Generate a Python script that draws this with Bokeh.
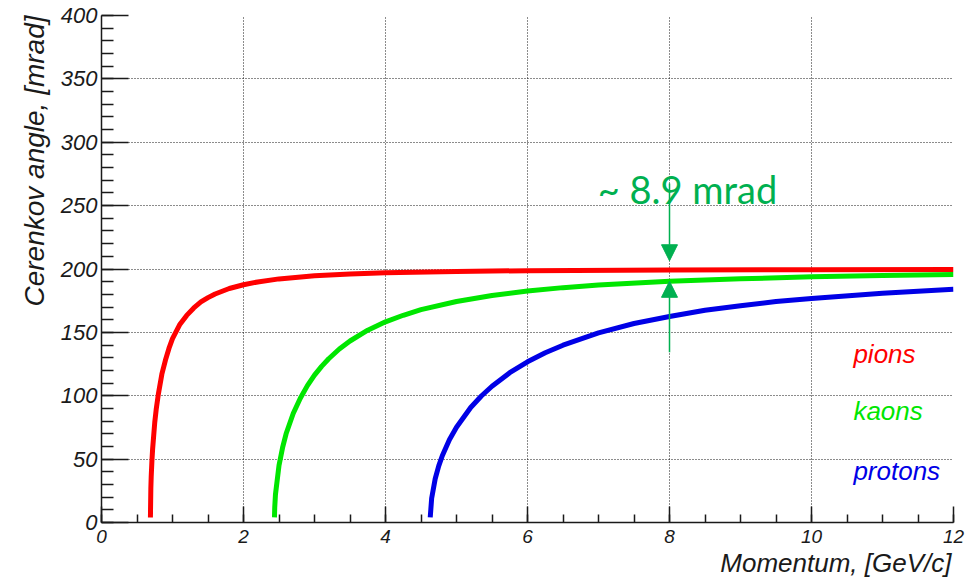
import math
from bokeh.plotting import figure
from bokeh.models import Range1d, FixedTicker, Label, Arrow, NormalHead, Title
from bokeh.embed import file_html
from bokeh.resources import INLINE

# ---- data ----
pion_p = [0.689, 0.695, 0.70, 0.71, 0.72, 0.75, 0.77, 0.80, 0.85, 0.90, 0.95, 1.0,
          1.1, 1.2, 1.3, 1.4, 1.5, 1.6, 1.8, 2.0, 2.2, 2.5, 3.0, 3.5, 4.0, 5.0,
          6.0, 8.0, 10.0, 12.0]
pion_theta = [4, 27, 36, 48.5, 58, 79, 89, 101, 117, 128, 137.3, 145,
              156, 163.4, 169.3, 174, 177.4, 180.3, 184.6, 187.6, 189.8, 192.2, 194.6, 196, 197, 198,
              198.7, 199.2, 199.5, 199.7]

kaon_p = [2.436, 2.44, 2.45, 2.5, 2.55, 2.6, 2.7, 2.8, 2.9, 3.0, 3.1, 3.2, 3.35,
          3.5, 3.75, 4.0, 4.25, 4.5, 5.0, 5.5, 6.0, 6.5, 7.0, 8.0, 9.0, 10.0, 11.0, 12.0]
kaon_theta = [4, 12, 22, 45, 59, 70, 86, 98, 108, 116.3, 123.2, 129.2, 136.9,
              143.2, 151.7, 158.3, 163.5, 167.9, 174.4, 179.1, 182.6, 185.3, 187.3, 190.3,
              192.3, 193.8, 194.8, 195.6]

proton_p = [4.63, 4.65, 4.7, 4.75, 4.8, 4.9, 5.0, 5.2, 5.35, 5.5, 5.75, 6.0, 6.25,
            6.5, 7.0, 7.5, 8.0, 8.5, 9.0, 9.5, 10.0, 11.0, 12.0]
proton_theta = [4, 19, 34.5, 44.7, 52.7, 65.3, 75.2, 90.7, 99.8, 107.5, 118.2, 126.8, 133.9,
                139.9, 149.6, 157, 162.5, 167.4, 171, 174.4, 176.8, 180.9, 184]

x_ticks = [0, 2, 4, 6, 8, 10, 12]
x_minor = [i * 0.5 for i in range(25)]
y_ticks = [0, 50, 100, 150, 200, 250, 300, 350, 400]
y_minor = [i * 10 for i in range(41)]

species = ["pions", "kaons", "protons"]
colors = ["#ff0000", "#00e600", "#0000e6"]
label_y = [133, 88, 41]

x_title = "Momentum, [GeV/c]"
y_title = "Cerenkov angle, [mrad]"
annot_text = "~ 8.9 mrad"
annot_color = "#00b050"

FONT = "Liberation Sans"
AXC = "#1a1a1a"

p = figure(width=976, height=579, output_backend="svg", toolbar_location=None,
           x_range=Range1d(0, 12), y_range=Range1d(0, 400),
           min_border_left=101, min_border_right=23,
           min_border_top=15, min_border_bottom=57)
p.outline_line_color = None
p.background_fill_color = "white"
p.border_fill_color = "white"

p.xaxis.ticker = FixedTicker(ticks=x_ticks, minor_ticks=x_minor)
p.yaxis.ticker = FixedTicker(ticks=y_ticks, minor_ticks=y_minor)

for ax in (p.xaxis, p.yaxis):
    ax.axis_line_color = AXC
    ax.axis_line_width = 1.5
    ax.major_tick_line_color = AXC
    ax.major_tick_line_width = 1.5
    ax.minor_tick_line_color = AXC
    ax.minor_tick_line_width = 1.5
    ax.major_tick_out = 0
    ax.minor_tick_out = 0
    ax.major_label_text_font = FONT
    ax.major_label_text_font_style = "italic"
    ax.major_label_text_color = AXC

p.xaxis.major_tick_in = 16
p.xaxis.minor_tick_in = 8
p.xaxis.major_label_text_font_size = "19px"
p.xaxis.major_label_standoff = 7
p.yaxis.major_tick_in = 27
p.yaxis.minor_tick_in = 12
p.yaxis.major_label_text_font_size = "22px"
p.yaxis.major_label_standoff = 4

for g in (p.xgrid, p.ygrid):
    g.grid_line_color = "black"
    g.grid_line_width = 1
    g.grid_line_dash = "1 2"
    g.grid_line_alpha = 0.9

series = [(pion_p, pion_theta), (kaon_p, kaon_theta), (proton_p, proton_theta)]
for (xs, ys), c in zip(series, colors):
    p.line(xs, ys, line_color=c, line_width=5, line_join="round")

for name, c, ly in zip(species, colors, label_y):
    p.add_layout(Label(x=10.59, y=ly, text=name, text_color=c,
                       text_font=FONT, text_font_style="italic",
                       text_font_size="26px", text_align="left",
                       text_baseline="middle"))

# axis titles (ROOT style: aligned to the end of the axis)
p.add_layout(Title(text=x_title, align="right", vertical_align="bottom",
                   text_font=FONT, text_font_style="italic", text_font_size="26px",
                   text_color=AXC, standoff=0, offset=2), "below")
p.add_layout(Title(text=y_title, align="right", vertical_align="bottom",
                   text_font=FONT, text_font_style="italic", text_font_size="28px",
                   text_color=AXC, standoff=16, offset=0), "left")

# annotation
p.add_layout(Label(x=6.99, y=263.5, text=annot_text, text_color=annot_color,
                   text_font="Lato", text_font_size="38px",
                   text_align="left", text_baseline="middle"))
p.add_layout(Arrow(end=NormalHead(size=16, fill_color=annot_color, line_color=annot_color),
                   x_start=8, y_start=267.5, x_end=8, y_end=206.5,
                   line_color=annot_color, line_width=1.5))
p.add_layout(Arrow(end=NormalHead(size=16, fill_color=annot_color, line_color=annot_color),
                   x_start=8, y_start=134.4, x_end=8, y_end=190.3,
                   line_color=annot_color, line_width=1.5))

open("out.html", "w").write(file_html(p, INLINE))
